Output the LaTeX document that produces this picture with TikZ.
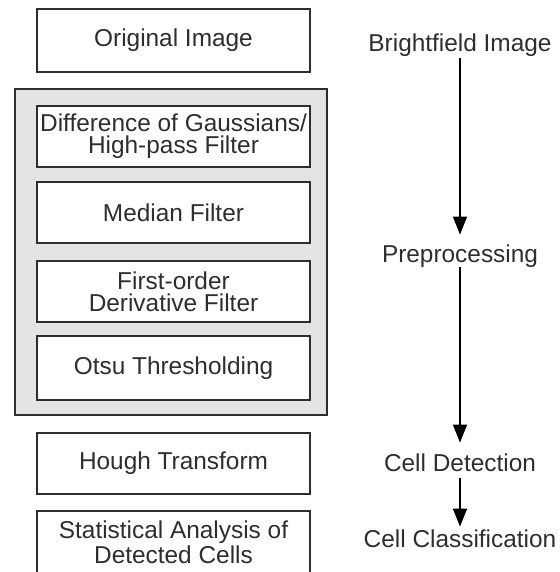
\documentclass[tikz,border=0pt]{standalone}
\usepackage{fontspec}
\setmainfont{Liberation Sans}
\usetikzlibrary{arrows.meta}
\definecolor{ink}{HTML}{2E2E2E}
\definecolor{panel}{HTML}{E4E4E4}
\begin{document}
\begin{tikzpicture}[x=0.5pt,y=-0.5pt,
  txt/.style={font=\fontsize{12.2}{11}\selectfont, text=ink},
  stepbox/.style={txt, draw=ink, line width=1pt, fill=white, align=center,
    minimum width=136.5pt, inner sep=0pt},
  lab/.style={txt, inner sep=0pt, text height=9pt, text depth=2.5pt, anchor=base},
  flow/.style={draw=black, line width=0.75pt, -{Triangle[length=9pt,width=7pt]}}]
\useasboundingbox (0,0) rectangle (560,572);
% grey panel
\node[draw=ink, line width=1pt, fill=panel, minimum width=156pt, minimum height=163pt, inner sep=0pt] (panel) at (171,252) {};
% left column boxes
\node[stepbox, minimum height=31.5pt] (orig) at (173.5,40.5) {Original Image};
\node[stepbox, minimum height=30.5pt] (dog) at (173.5,136.5) {Difference of Gaussians/\\High-pass Filter};
\node[stepbox, minimum height=30.5pt] (med) at (173.5,212.5) {Median Filter};
\node[stepbox, minimum height=30.5pt] (deriv) at (173.5,291.5) {First-order\\Derivative Filter};
\node[stepbox, minimum height=32pt] (otsu) at (173.5,368) {Otsu Thresholding};
\node[stepbox, minimum height=30.5pt] (hough) at (173.5,463.5) {Hough Transform};
\node[stepbox, minimum height=31.5pt] (stat) at (173.5,542.5) {Statistical Analysis of\\Detected Cells};
% right column labels
\node[lab] (bf) at (460,51.5) {Brightfield Image};
\node[lab] (pre) at (460,262) {Preprocessing};
\node[lab] (det) at (460,471) {Cell Detection};
\node[lab] (cls) at (460,547) {Cell Classification};
\draw[flow, shorten <=0.75pt, shorten >=4.5pt] (bf.south) -- (pre.north);
\draw[flow, shorten >=5pt] (pre.south) -- (det.north);
\draw[flow, shorten <=1pt, shorten >=1pt] (det.south) -- (cls.north);
\end{tikzpicture}
\end{document}
